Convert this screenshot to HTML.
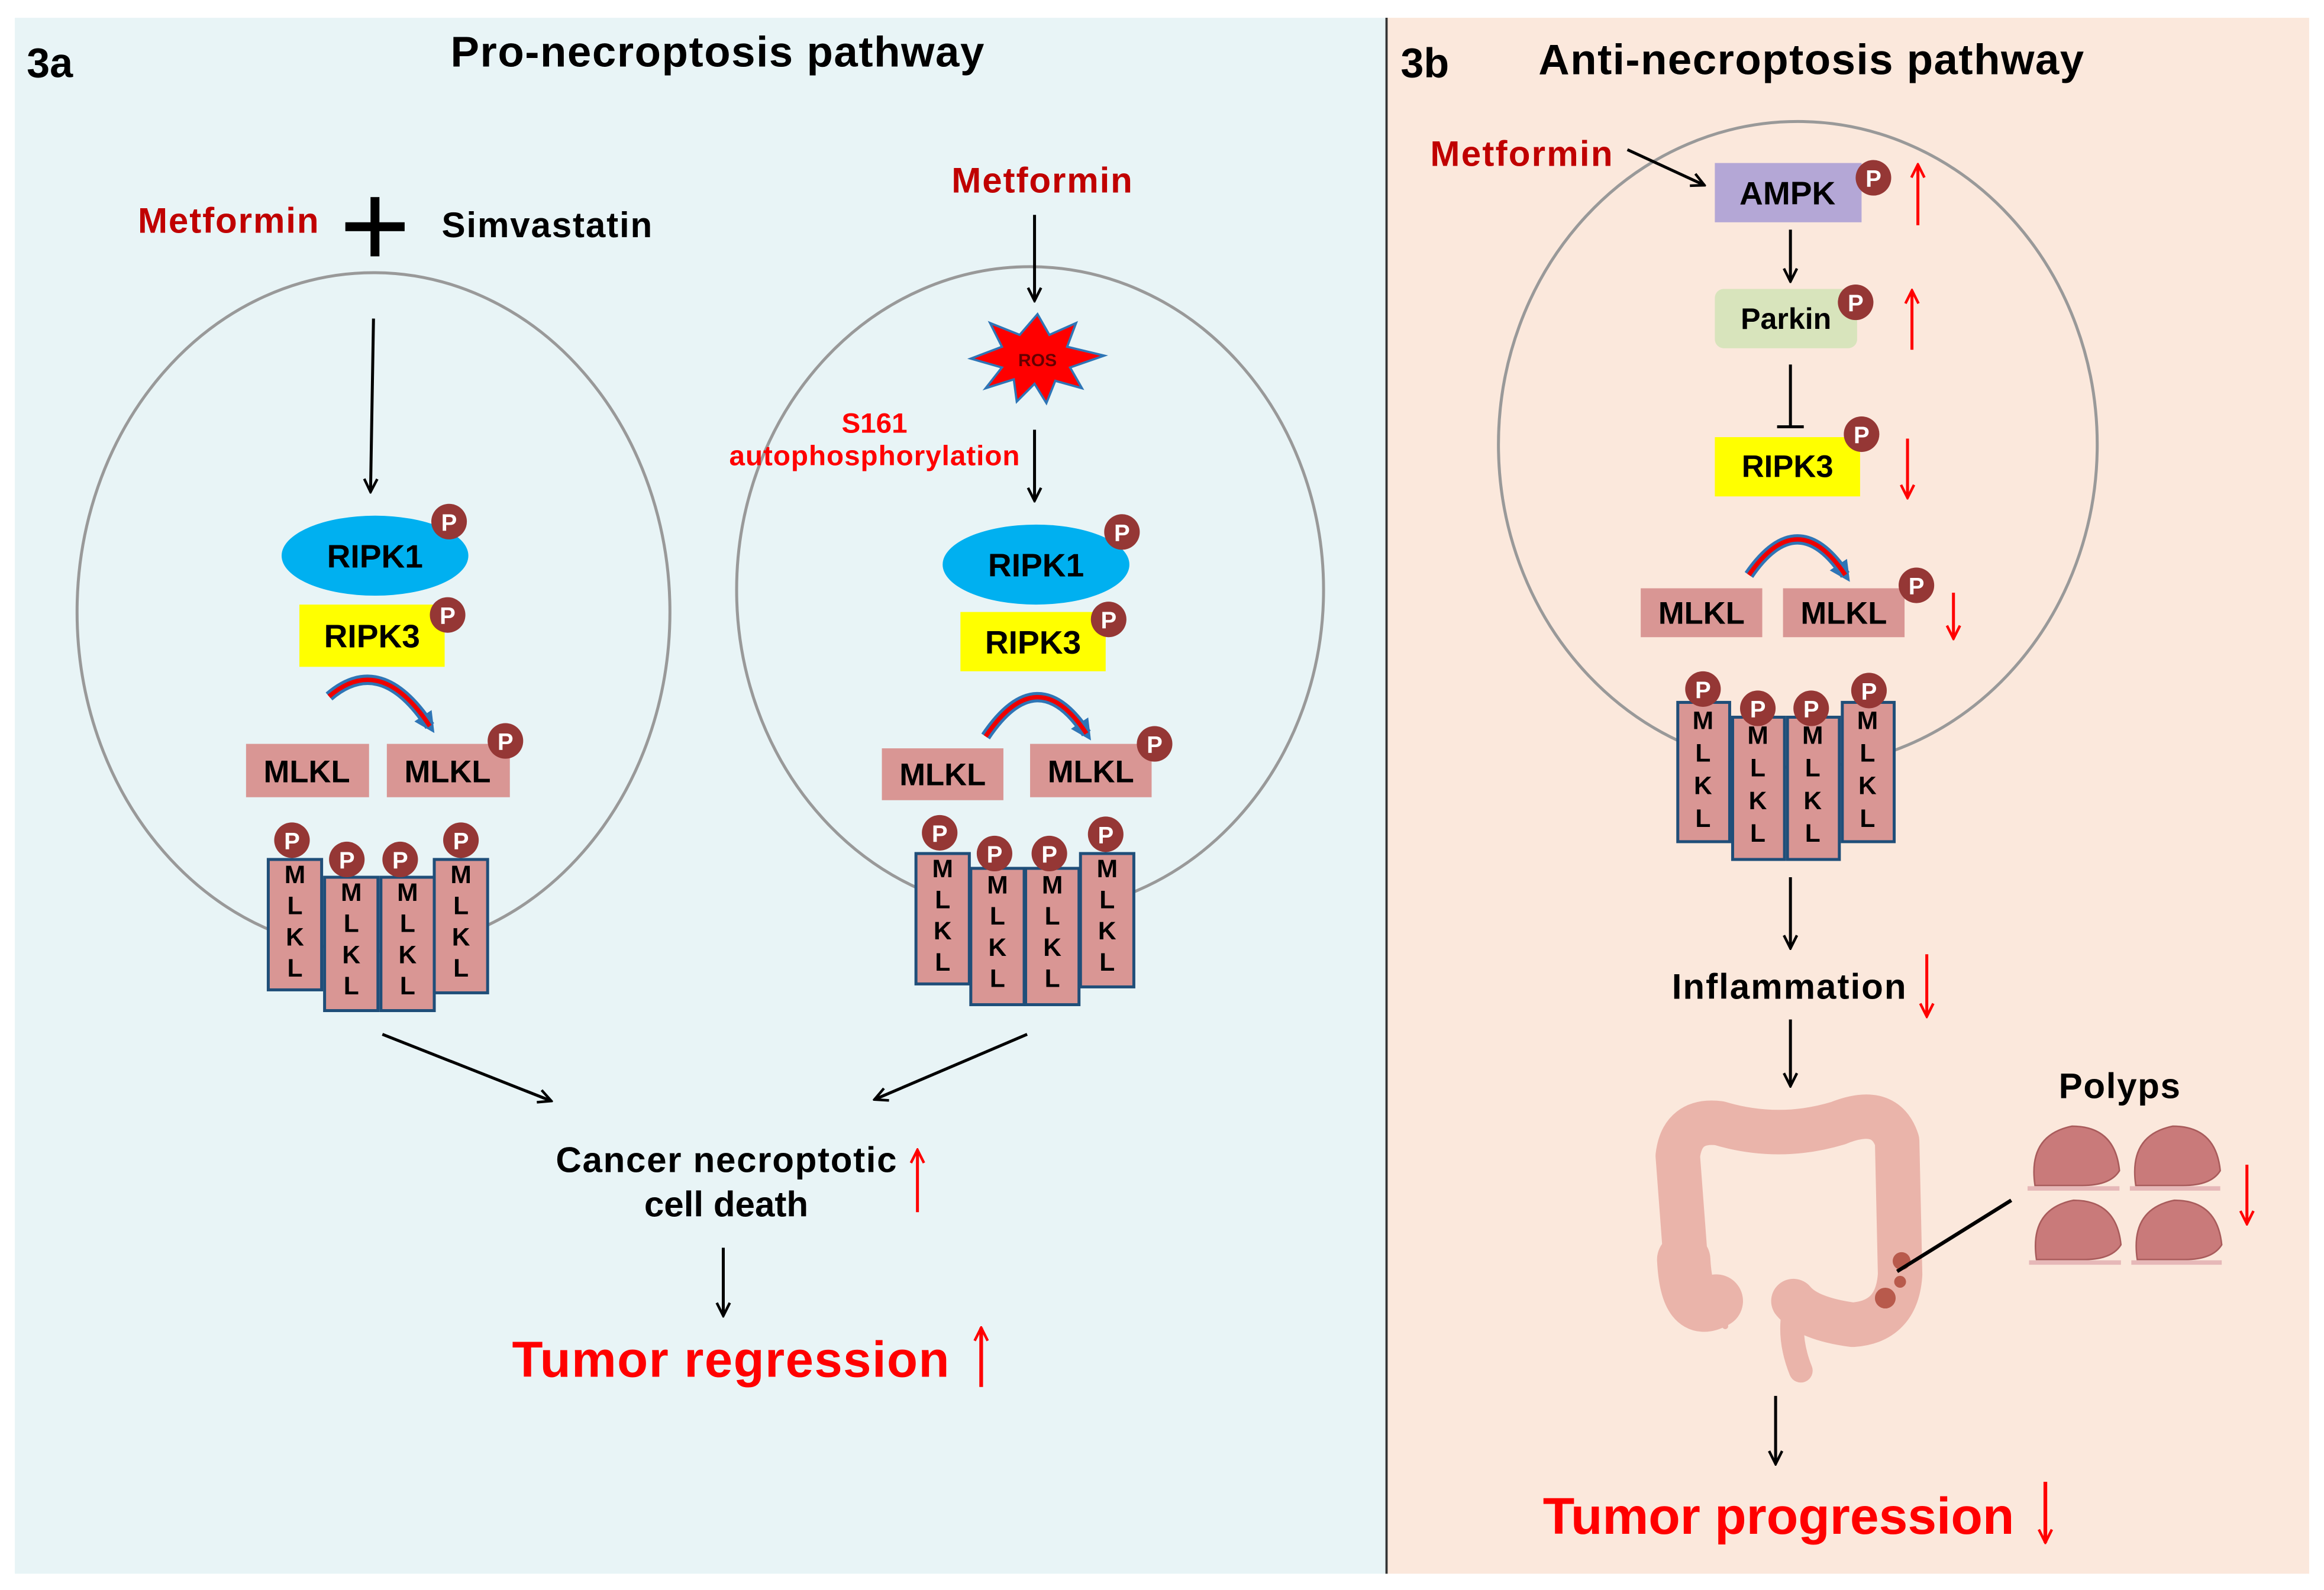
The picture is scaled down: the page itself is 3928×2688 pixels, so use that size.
<!DOCTYPE html>
<html><head><meta charset="utf-8"><style>
html,body{margin:0;padding:0;background:#fff;width:3928px;height:2688px;overflow:hidden}
svg{display:block}
text{font-family:"Liberation Sans",Arial,sans-serif;font-weight:bold}
</style></head><body>
<svg width="3928" height="2688" viewBox="0 0 1568 1073" preserveAspectRatio="none" xmlns="http://www.w3.org/2000/svg">
<defs>
<marker id="ah" viewBox="0 0 10 10" refX="9" refY="5" markerWidth="11" markerHeight="11" orient="auto-start-reverse" markerUnits="userSpaceOnUse"><path d="M1,1 L9,5 L1,9" fill="none" stroke="#000" stroke-width="1.6"/></marker>
<marker id="ahr" viewBox="0 0 10 10" refX="9" refY="5" markerWidth="11" markerHeight="11" orient="auto" markerUnits="userSpaceOnUse"><path d="M1,1 L9,5 L1,9" fill="none" stroke="#f00" stroke-width="1.6"/></marker>
<marker id="ahb" viewBox="0 0 10 10" refX="6" refY="5" markerWidth="14" markerHeight="14" orient="auto" markerUnits="userSpaceOnUse"><path d="M0,0 L10,5 L0,10 z" fill="#2e75b6"/></marker>
<g id="P"><circle r="12" fill="#953735"/><text y="6" text-anchor="middle" font-size="16" fill="#fff">P</text></g>
</defs>
<rect x="10" y="12" width="925" height="1050" fill="#e8f4f6"/>
<rect x="936" y="12" width="622" height="1050" fill="#fbe8dc"/>
<line x1="935.5" y1="12" x2="935.5" y2="1062" stroke="#333" stroke-width="1.5"/>

<text x="18" y="52" font-size="28">3a</text>
<text x="484" y="45" font-size="29" text-anchor="middle" textLength="360">Pro-necroptosis pathway</text>
<text x="945" y="52" font-size="28">3b</text>
<text x="1222" y="50" font-size="29" text-anchor="middle" textLength="368">Anti-necroptosis pathway</text>

<!-- left cell -->
<ellipse cx="252" cy="413" rx="200" ry="229" fill="none" stroke="#999" stroke-width="2"/>
<text x="93" y="157" font-size="24" fill="#c00000" textLength="122">Metformin</text>
<rect x="233" y="150" width="40" height="6" fill="#000"/><rect x="250" y="133" width="6" height="40" fill="#000"/>
<text x="298" y="160" font-size="24" textLength="142">Simvastatin</text>
<line x1="252" y1="215" x2="250" y2="332" stroke="#000" stroke-width="2" marker-end="url(#ah)"/>
<ellipse cx="253" cy="375" rx="63" ry="27" fill="#00b0f0"/>
<text x="253" y="383" font-size="22" text-anchor="middle">RIPK1</text>
<use href="#P" x="303" y="352"/>
<rect x="202" y="408" width="98" height="42" fill="#ffff00"/>
<text x="251" y="437" font-size="22" text-anchor="middle">RIPK3</text>
<use href="#P" x="302" y="415"/>
<path d="M222,470 Q257,440 290,490" fill="none" stroke="#2e75b6" stroke-width="7" marker-end="url(#ahb)"/>
<path d="M222,470 Q257,440 290,490" fill="none" stroke="#e00" stroke-width="3"/>
<rect x="166" y="502" width="83" height="36" fill="#d99694"/><text x="207" y="528" font-size="21" text-anchor="middle">MLKL</text>
<rect x="261" y="502" width="83" height="36" fill="#d99694"/><text x="302" y="528" font-size="21" text-anchor="middle">MLKL</text>
<use href="#P" x="341" y="500"/>
<g font-size="17" text-anchor="middle">
<rect x="181" y="580" width="36" height="88" fill="#d99694" stroke="#1f4e79" stroke-width="2"/>
<text x="199" y="596">M</text><text x="199" y="617">L</text><text x="199" y="638">K</text><text x="199" y="659">L</text>
<rect x="219" y="592" width="36" height="90" fill="#d99694" stroke="#1f4e79" stroke-width="2"/>
<text x="237" y="608">M</text><text x="237" y="629">L</text><text x="237" y="650">K</text><text x="237" y="671">L</text>
<rect x="257" y="592" width="36" height="90" fill="#d99694" stroke="#1f4e79" stroke-width="2"/>
<text x="275" y="608">M</text><text x="275" y="629">L</text><text x="275" y="650">K</text><text x="275" y="671">L</text>
<rect x="293" y="580" width="36" height="90" fill="#d99694" stroke="#1f4e79" stroke-width="2"/>
<text x="311" y="596">M</text><text x="311" y="617">L</text><text x="311" y="638">K</text><text x="311" y="659">L</text>
</g>
<use href="#P" x="197" y="567"/><use href="#P" x="234" y="580"/><use href="#P" x="270" y="580"/><use href="#P" x="311" y="567"/>
<line x1="258" y1="698" x2="372" y2="743" stroke="#000" stroke-width="2" marker-end="url(#ah)"/>

<!-- middle cell -->
<ellipse cx="695" cy="398" rx="198" ry="218" fill="none" stroke="#999" stroke-width="2"/>
<text x="703" y="130" font-size="24" fill="#c00000" text-anchor="middle" textLength="122">Metformin</text>
<line x1="698" y1="145" x2="698" y2="203" stroke="#000" stroke-width="2" marker-end="url(#ah)"/>
<polygon points="700,212 708,226 726,218 720,234 745,240 722,248 730,262 712,257 706,272 698,259 686,271 684,256 665,262 676,248 655,242 676,234 668,218 688,226" fill="#f00" stroke="#2e75b6" stroke-width="1.5"/>
<text x="700" y="247" font-size="12" text-anchor="middle" fill="#600">ROS</text>
<text x="590" y="292" font-size="19" fill="#f00" text-anchor="middle">S161</text>
<text x="590" y="314" font-size="19" fill="#f00" text-anchor="middle" textLength="196">autophosphorylation</text>
<line x1="698" y1="290" x2="698" y2="338" stroke="#000" stroke-width="2" marker-end="url(#ah)"/>
<ellipse cx="699" cy="381" rx="63" ry="27" fill="#00b0f0"/>
<text x="699" y="389" font-size="22" text-anchor="middle">RIPK1</text>
<use href="#P" x="757" y="359"/>
<rect x="648" y="413" width="98" height="40" fill="#ffff00"/>
<text x="697" y="441" font-size="22" text-anchor="middle">RIPK3</text>
<use href="#P" x="748" y="418"/>
<path d="M665,497 Q700,445 733,495" fill="none" stroke="#2e75b6" stroke-width="7" marker-end="url(#ahb)"/>
<path d="M665,497 Q700,445 733,495" fill="none" stroke="#e00" stroke-width="3"/>
<rect x="595" y="505" width="82" height="35" fill="#d99694"/><text x="636" y="530" font-size="21" text-anchor="middle">MLKL</text>
<rect x="695" y="502" width="82" height="36" fill="#d99694"/><text x="736" y="528" font-size="21" text-anchor="middle">MLKL</text>
<use href="#P" x="779" y="502"/>
<g font-size="17" text-anchor="middle">
<rect x="618" y="576" width="36" height="88" fill="#d99694" stroke="#1f4e79" stroke-width="2"/>
<text x="636" y="592">M</text><text x="636" y="613">L</text><text x="636" y="634">K</text><text x="636" y="655">L</text>
<rect x="655" y="586" width="36" height="92" fill="#d99694" stroke="#1f4e79" stroke-width="2"/>
<text x="673" y="603">M</text><text x="673" y="624">L</text><text x="673" y="645">K</text><text x="673" y="666">L</text>
<rect x="692" y="586" width="36" height="92" fill="#d99694" stroke="#1f4e79" stroke-width="2"/>
<text x="710" y="603">M</text><text x="710" y="624">L</text><text x="710" y="645">K</text><text x="710" y="666">L</text>
<rect x="729" y="576" width="36" height="90" fill="#d99694" stroke="#1f4e79" stroke-width="2"/>
<text x="747" y="592">M</text><text x="747" y="613">L</text><text x="747" y="634">K</text><text x="747" y="655">L</text>
</g>
<use href="#P" x="634" y="562"/><use href="#P" x="671" y="576"/><use href="#P" x="708" y="576"/><use href="#P" x="746" y="563"/>
<line x1="693" y1="698" x2="590" y2="742" stroke="#000" stroke-width="2" marker-end="url(#ah)"/>

<text x="490" y="791" font-size="24" text-anchor="middle" textLength="230">Cancer necroptotic</text>
<text x="490" y="821" font-size="24" text-anchor="middle">cell death</text>
<line x1="619" y1="818" x2="619" y2="776" stroke="#f00" stroke-width="2" marker-end="url(#ahr)"/>
<line x1="488" y1="842" x2="488" y2="888" stroke="#000" stroke-width="2" marker-end="url(#ah)"/>
<text x="493" y="929" font-size="34" fill="#f00" text-anchor="middle" textLength="295">Tumor regression</text>
<line x1="662" y1="936" x2="662" y2="896" stroke="#f00" stroke-width="2.5" marker-end="url(#ahr)"/>

<!-- right cell -->
<ellipse cx="1213" cy="300" rx="202" ry="218" fill="none" stroke="#999" stroke-width="2"/>
<text x="965" y="112" font-size="24" fill="#c00000" textLength="123">Metformin</text>
<line x1="1098" y1="101" x2="1150" y2="125" stroke="#000" stroke-width="2" marker-end="url(#ah)"/>
<rect x="1157" y="110" width="99" height="40" fill="#b4a7d6"/>
<text x="1206" y="138" font-size="22" text-anchor="middle">AMPK</text>
<use href="#P" x="1264" y="120"/>
<line x1="1294" y1="152" x2="1294" y2="111" stroke="#f00" stroke-width="2" marker-end="url(#ahr)"/>
<line x1="1208" y1="155" x2="1208" y2="190" stroke="#000" stroke-width="2" marker-end="url(#ah)"/>
<rect x="1157" y="195" width="96" height="40" rx="6" fill="#d8e4bc"/>
<text x="1205" y="222" font-size="20" text-anchor="middle">Parkin</text>
<use href="#P" x="1252" y="204"/>
<line x1="1290" y1="236" x2="1290" y2="196" stroke="#f00" stroke-width="2" marker-end="url(#ahr)"/>
<line x1="1208" y1="246" x2="1208" y2="288" stroke="#000" stroke-width="2"/>
<line x1="1199" y1="288" x2="1217" y2="288" stroke="#000" stroke-width="2"/>
<rect x="1157" y="295" width="98" height="40" fill="#ffff00"/>
<text x="1206" y="322" font-size="21" text-anchor="middle">RIPK3</text>
<use href="#P" x="1256" y="293"/>
<line x1="1287" y1="296" x2="1287" y2="336" stroke="#f00" stroke-width="2" marker-end="url(#ahr)"/>
<path d="M1180,388 Q1213,340 1245,388" fill="none" stroke="#2e75b6" stroke-width="7" marker-end="url(#ahb)"/>
<path d="M1180,388 Q1213,340 1245,388" fill="none" stroke="#e00" stroke-width="3"/>
<rect x="1107" y="397" width="82" height="33" fill="#d99694"/><text x="1148" y="421" font-size="21" text-anchor="middle">MLKL</text>
<rect x="1203" y="397" width="82" height="33" fill="#d99694"/><text x="1244" y="421" font-size="21" text-anchor="middle">MLKL</text>
<use href="#P" x="1293" y="395"/>
<line x1="1318" y1="400" x2="1318" y2="431" stroke="#f00" stroke-width="2" marker-end="url(#ahr)"/>
<g font-size="17" text-anchor="middle">
<rect x="1132" y="474" width="35" height="94" fill="#d99694" stroke="#1f4e79" stroke-width="2"/>
<text x="1149" y="492">M</text><text x="1149" y="514">L</text><text x="1149" y="536">K</text><text x="1149" y="558">L</text>
<rect x="1169" y="484" width="35" height="96" fill="#d99694" stroke="#1f4e79" stroke-width="2"/>
<text x="1186" y="502">M</text><text x="1186" y="524">L</text><text x="1186" y="546">K</text><text x="1186" y="568">L</text>
<rect x="1206" y="484" width="35" height="96" fill="#d99694" stroke="#1f4e79" stroke-width="2"/>
<text x="1223" y="502">M</text><text x="1223" y="524">L</text><text x="1223" y="546">K</text><text x="1223" y="568">L</text>
<rect x="1243" y="474" width="35" height="94" fill="#d99694" stroke="#1f4e79" stroke-width="2"/>
<text x="1260" y="492">M</text><text x="1260" y="514">L</text><text x="1260" y="536">K</text><text x="1260" y="558">L</text>
</g>
<use href="#P" x="1149" y="465"/><use href="#P" x="1186" y="478"/><use href="#P" x="1222" y="478"/><use href="#P" x="1261" y="466"/>
<line x1="1208" y1="592" x2="1208" y2="640" stroke="#000" stroke-width="2" marker-end="url(#ah)"/>
<text x="1207" y="674" font-size="24" text-anchor="middle" textLength="158">Inflammation</text>
<line x1="1300" y1="644" x2="1300" y2="686" stroke="#f00" stroke-width="2" marker-end="url(#ahr)"/>
<line x1="1208" y1="688" x2="1208" y2="733" stroke="#000" stroke-width="2" marker-end="url(#ah)"/>

<!-- colon -->
<g fill="none" stroke="#eab4aa" stroke-linecap="round" stroke-linejoin="round">
<path d="M1138,860 L1132,780 Q1135,755 1160,758 Q1200,770 1240,758 Q1272,745 1280,770 L1282,860 Q1280,892 1250,894 Q1220,890 1210,878" stroke-width="30"/>
<path d="M1212,878 Q1205,900 1215,925" stroke-width="16"/>
<path d="M1136,850 Q1138,890 1158,878" stroke-width="36"/>
<path d="M1160,880 Q1164,890 1164,895" stroke-width="4"/>
</g>
<circle cx="1283" cy="851" r="6" fill="#b85a4c"/><circle cx="1282" cy="865" r="4" fill="#b85a4c"/><circle cx="1272" cy="876" r="7" fill="#b85a4c"/>
<line x1="1357" y1="810" x2="1280" y2="858" stroke="#000" stroke-width="2.5"/>
<text x="1430" y="741" font-size="24" text-anchor="middle" textLength="82">Polyps</text>
<g fill="#c97a7a" stroke="#a85b5b" stroke-width="1">
<path d="M1373,800 Q1368,766 1398,760 Q1427,760 1430,790 Q1424,800 1405,800 Z"/>
<path d="M1441,800 Q1436,766 1466,760 Q1495,760 1498,790 Q1492,800 1473,800 Z"/>
<path d="M1374,850 Q1369,816 1399,810 Q1428,810 1431,840 Q1425,850 1406,850 Z"/>
<path d="M1442,850 Q1437,816 1467,810 Q1496,810 1499,840 Q1493,850 1474,850 Z"/>
</g>
<g stroke="#e6b8b8" stroke-width="3"><line x1="1368" y1="802" x2="1430" y2="802"/><line x1="1437" y1="802" x2="1498" y2="802"/><line x1="1369" y1="852" x2="1431" y2="852"/><line x1="1438" y1="852" x2="1499" y2="852"/></g>
<line x1="1516" y1="786" x2="1516" y2="826" stroke="#f00" stroke-width="2" marker-end="url(#ahr)"/>
<line x1="1198" y1="942" x2="1198" y2="988" stroke="#000" stroke-width="2" marker-end="url(#ah)"/>
<text x="1200" y="1035" font-size="35" fill="#f00" text-anchor="middle" textLength="318">Tumor progression</text>
<line x1="1380" y1="1000" x2="1380" y2="1041" stroke="#f00" stroke-width="2.5" marker-end="url(#ahr)"/>
</svg>
</body></html>
